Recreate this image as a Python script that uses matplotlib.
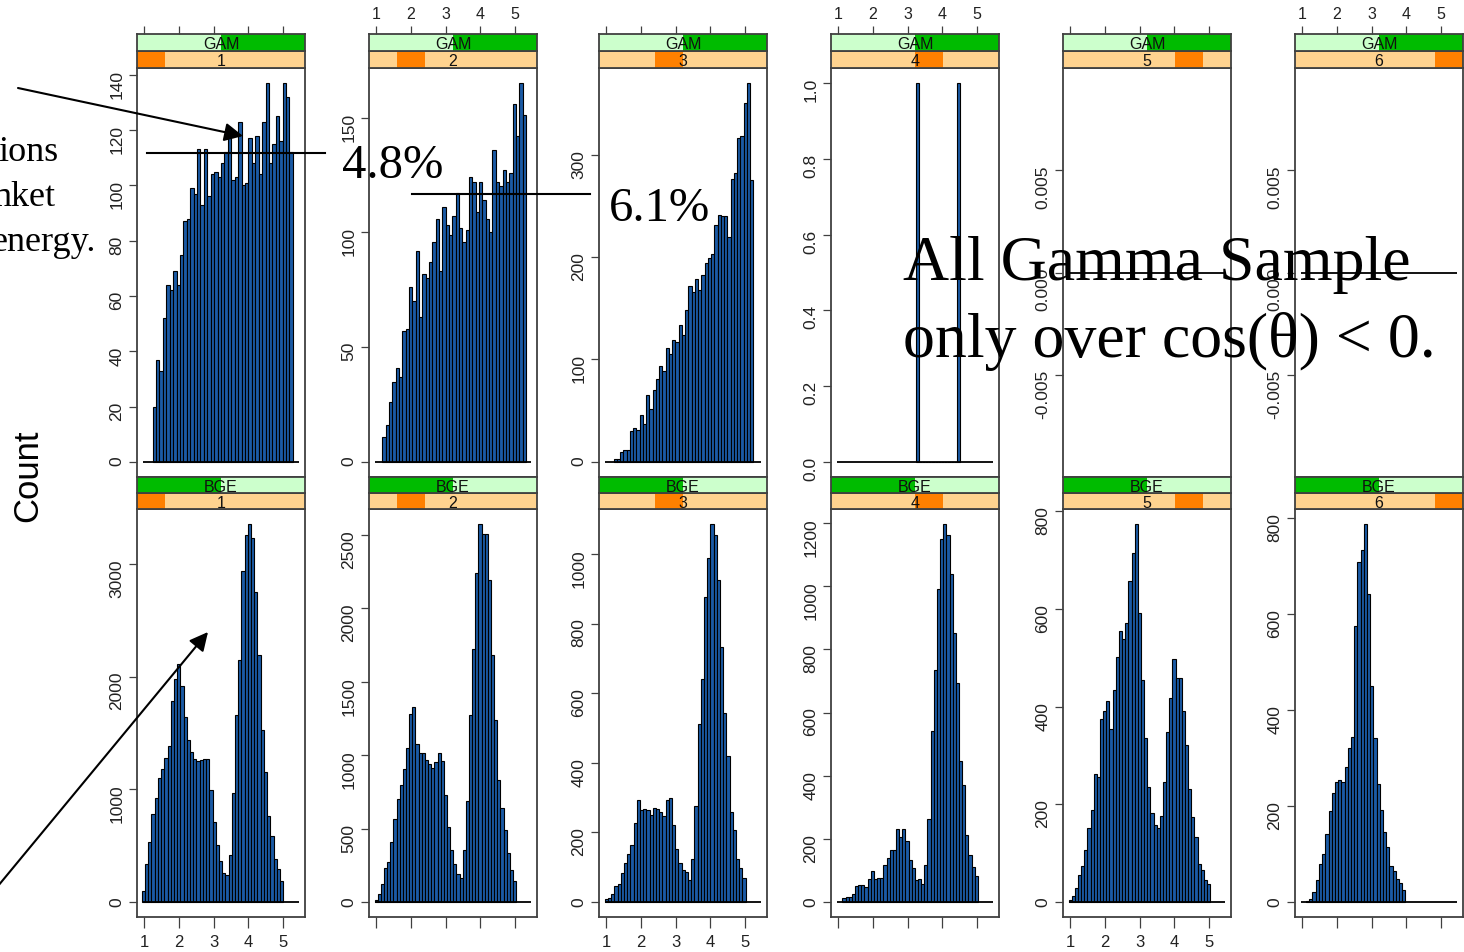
import matplotlib.pyplot as plt
import numpy as np
from matplotlib.patches import Rectangle

plt.rcParams["font.family"] = ["Liberation Sans", "DejaVu Sans"]
plt.rcParams["axes.unicode_minus"] = False

# counts per bin of log10(E), one histogram per energy level and sample
levels = [1, 2, 3, 4, 5, 6]

gam1 = [20, 37, 33, 52, 64, 62, 69, 64, 75, 87, 88, 99, 97, 113, 93, 113, 96, 104, 105, 103,
        108, 112, 117, 102, 103, 123, 100, 101, 117, 108, 118, 104, 123, 137, 108, 115, 125,
        116, 137, 132, 112]
gam2 = [11, 16, 26, 35, 41, 37, 57, 58, 76, 70, 92, 63, 82, 80, 87, 96, 106, 83, 111, 103, 99,
        107, 117, 102, 96, 101, 124, 122, 109, 122, 114, 106, 100, 136, 122, 120, 127, 122, 126,
        156, 142, 165, 151]
gam3 = [3, 3, 10, 12, 12, 30, 33, 31, 46, 37, 65, 52, 70, 81, 94, 89, 111, 105, 119, 117, 134,
        124, 148, 172, 166, 179, 168, 183, 194, 199, 203, 231, 241, 240, 240, 220, 276, 282, 316,
        318, 351, 370, 275]
gam4 = [1, 0, 0, 0, 0, 0, 0, 0, 0, 0, 0, 0, 0, 1]
gam5 = []
gam6 = []

bge1 = [100, 335, 533, 779, 924, 1099, 1181, 1282, 1383, 1786, 1978, 2117, 1919, 1643, 1442,
        1330, 1267, 1250, 1264, 1270, 1270, 998, 708, 506, 361, 261, 237, 420, 968, 1658, 2153,
        2940, 3260, 3358, 3234, 2754, 2191, 1528, 1158, 764, 583, 385, 290, 184]
bge2 = [16, 57, 123, 232, 275, 409, 564, 698, 795, 907, 1050, 1284, 1330, 1073, 1018, 1018, 966,
        943, 916, 952, 1016, 961, 730, 509, 352, 261, 189, 166, 352, 686, 1273, 1727, 2239, 2575,
        2511, 2511, 2193, 1682, 1239, 830, 641, 489, 330, 220, 143]
bge3 = [7, 10, 24, 47, 51, 84, 112, 139, 164, 227, 294, 264, 267, 264, 251, 271, 266, 259, 247,
        294, 299, 220, 153, 112, 93, 87, 62, 122, 277, 510, 640, 877, 990, 1086, 1056, 925, 733,
        542, 419, 257, 206, 122, 98, 70]
bge4 = [11, 15, 15, 25, 50, 53, 55, 46, 72, 97, 72, 76, 76, 116, 139, 164, 164, 232, 207, 232,
        194, 134, 108, 68, 74, 57, 118, 264, 540, 736, 992, 1150, 1197, 1161, 1039, 853, 693, 447,
        369, 211, 150, 109, 82]
bge5 = [3, 12, 29, 56, 73, 106, 152, 189, 263, 255, 375, 391, 411, 355, 434, 501, 556, 539, 571,
        658, 714, 774, 591, 455, 336, 235, 182, 157, 152, 176, 246, 348, 418, 498, 458, 458, 391,
        322, 232, 173, 133, 77, 65, 44, 36]
bge6 = [2, 7, 21, 46, 78, 99, 142, 189, 226, 250, 253, 250, 280, 321, 344, 574, 709, 733, 787,
        642, 450, 341, 246, 192, 145, 115, 74, 65, 48, 40, 24]

# data range (first and last bin edge) of each histogram
gam_range = [(1.24, 5.29), (1.17, 5.32), (1.21, 5.25), (3.23, 4.52), None, None]
bge_range = [(0.93, 5.01), (0.95, 5.04), (0.96, 5.02), (1.12, 5.03), (0.95, 5.04), (1.11, 3.98)]

gam_yticks = [[0, 20, 40, 60, 80, 100, 120, 140], [0, 50, 100, 150], [0, 100, 200, 300],
              [0.0, 0.2, 0.4, 0.6, 0.8, 1.0], [-0.005, 0.0, 0.005], [-0.005, 0.0, 0.005]]
bge_yticks = [[0, 1000, 2000, 3000], [0, 500, 1000, 1500, 2000, 2500],
              [0, 200, 400, 600, 800, 1000], [0, 200, 400, 600, 800, 1000, 1200],
              [0, 200, 400, 600, 800], [0, 200, 400, 600, 800]]
xticks = [1, 2, 3, 4, 5]

BAR = "#1b5aa5"
FRAME = "#404040"
LT_GREEN, DK_GREEN = "#ccffcc", "#00bb00"
LT_ORANGE, DK_ORANGE = "#ffd38f", "#ff8000"

W, H = 1464, 953
fig = plt.figure(figsize=(W / 100, H / 100), dpi=100)

col_left = [137, 369, 599, 831, 1063, 1295]
col_w = 168
XLIM = (0.79, 5.64)


def box(x0, y0, x1, y1):
    return [x0 / W, 1 - y1 / H, (x1 - x0) / W, (y1 - y0) / H]


def frame(ax):
    for s in ax.spines.values():
        s.set_color(FRAME)
        s.set_linewidth(1.3)


def strip(x0, y0, y1, spans, label):
    ax = fig.add_axes(box(x0, y0, x0 + col_w, y1))
    ax.set_xlim(*XLIM)
    ax.set_ylim(0, 1)
    for a, b, c in spans:
        ax.add_patch(Rectangle((a, 0), b - a, 1, transform=ax.transAxes, color=c, lw=0))
    ax.text(0.5, 0.42, label, transform=ax.transAxes, ha="center", va="center",
            fontsize=11.5, color="#111111")
    ax.set_xticks([])
    ax.set_yticks([])
    frame(ax)
    return ax


def panel(x0, y0, y1, rng, counts, yticks):
    ax = fig.add_axes(box(x0, y0, x0 + col_w, y1))
    ax.set_xlim(*XLIM)
    if counts:
        edges = np.linspace(rng[0], rng[1], len(counts) + 1)
        ax.bar(edges[:-1], counts, width=np.diff(edges), align="edge", color=BAR,
               edgecolor="black", linewidth=0.8)
        top = max(counts)
        ax.set_ylim(-0.04 * top, 1.04 * top)
    else:
        ax.set_ylim(-0.01, 0.01)
    ax.hlines(0, 0.95, 5.48, color="black", lw=1.3)
    ax.set_yticks(yticks)
    ax.tick_params(axis="y", direction="out", length=6, width=0.9, color=FRAME,
                   labelsize=12.5, labelrotation=90, pad=3, labelcolor="#222222")
    frame(ax)
    return ax


for i, lev in enumerate(levels):
    x0 = col_left[i]
    seg = (i / 6, (i + 1) / 6)

    # GAM row
    ax = panel(x0, 69, 478, gam_range[i], [gam1, gam2, gam3, gam4, gam5, gam6][i], gam_yticks[i])
    ax.set_xticks([])
    strip(x0, 52, 69, [(0, 1, LT_ORANGE), (seg[0], seg[1], DK_ORANGE)], str(lev))
    st = strip(x0, 35, 52, [(0, 0.5, LT_GREEN), (0.5, 1, DK_GREEN)], "GAM")
    st.xaxis.tick_top()
    st.set_xticks(xticks)
    st.tick_params(axis="x", direction="out", length=6, width=0.9, color=FRAME,
                   labelsize=11.5, pad=3, labeltop=(i % 2 == 1), labelcolor="#222222")

    # BGE row
    ax = panel(x0, 510, 918, bge_range[i], [bge1, bge2, bge3, bge4, bge5, bge6][i], bge_yticks[i])
    ax.set_xticks(xticks)
    ax.tick_params(axis="x", direction="out", length=8, width=0.9, color=FRAME,
                   labelsize=12, pad=4, labelbottom=(i % 2 == 0), labelcolor="#222222")
    strip(x0, 494, 510, [(0, 1, LT_ORANGE), (seg[0], seg[1], DK_ORANGE)], str(lev))
    strip(x0, 478, 494, [(0, 0.5, DK_GREEN), (0.5, 1, LT_GREEN)], "BGE")

# overlay in pixel coordinates for the slide annotations
ov = fig.add_axes([0, 0, 1, 1], zorder=10)
ov.set_xlim(0, W)
ov.set_ylim(H, 0)
ov.axis("off")

ov.text(28, 476, "Count", rotation=90, ha="center", va="center", fontsize=25)

serif = ["Liberation Serif", "DejaVu Serif"]
for txt, xr, yb in [("ions", 58, 161), ("nket", 55, 206), ("energy.", 96, 251)]:
    ov.text(xr, yb, txt, ha="right", va="baseline", fontsize=26, family=serif)

ov.text(342, 178, "4.8%", ha="left", va="baseline", fontsize=35, family=serif)
ov.text(609, 221, "6.1%", ha="left", va="baseline", fontsize=35, family=serif)
ov.text(903, 280, "All Gamma Sample", ha="left", va="baseline", fontsize=46, family=serif)
ov.text(903, 357, "only over cos(θ) < 0.", ha="left", va="baseline", fontsize=46, family=serif)

ov.plot([147, 325], [154, 154], color="black", lw=1.5)
ov.plot([412, 590], [195, 195], color="black", lw=1.5)

arrow = dict(arrowstyle="-|>", color="black", lw=1.5, mutation_scale=28, shrinkA=0, shrinkB=0)
ov.annotate("", xy=(243, 137), xytext=(18, 89), arrowprops=arrow)
ov.annotate("", xy=(208, 633), xytext=(-2, 887), arrowprops=arrow)

fig.savefig("out.png", dpi=100)
